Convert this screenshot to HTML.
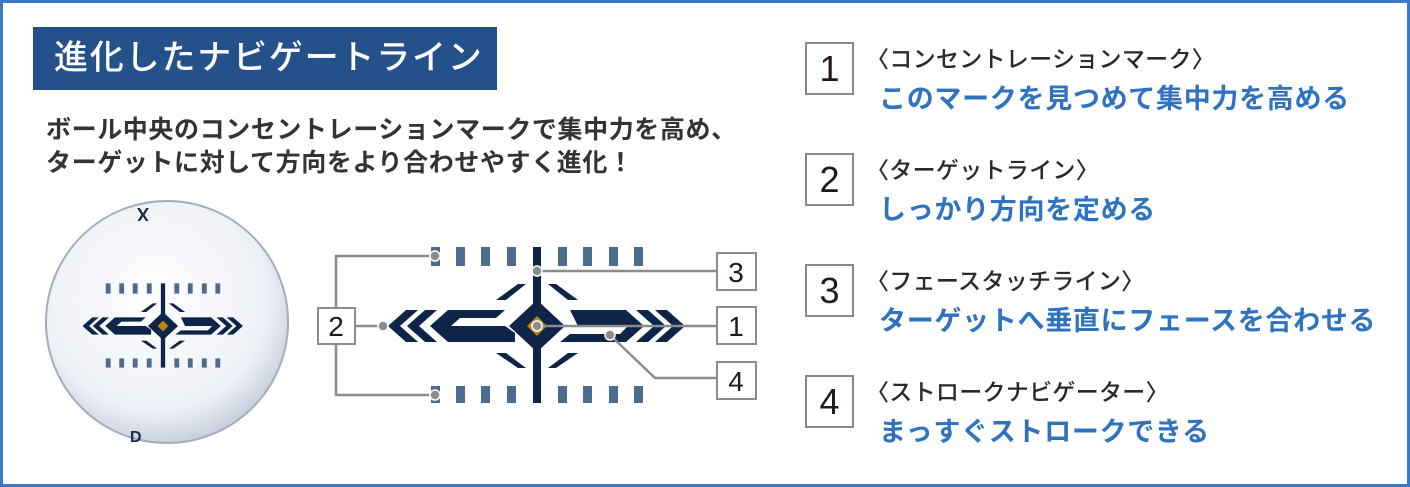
<!DOCTYPE html>
<html><head><meta charset="utf-8"><style>
*{margin:0;padding:0;box-sizing:border-box}
body{width:1410px;height:487px;background:#fff;position:relative;overflow:hidden;font-family:"Liberation Sans","Noto Sans CJK JP",sans-serif}
.frame{position:absolute;left:0;top:0;width:1410px;height:487px;border:3px solid #3a78c3}
.title{position:absolute;left:33px;top:27px;width:464px;height:63px;background:#24518a;color:#fff;font-size:34px;font-weight:500;line-height:63px;padding-left:21px;letter-spacing:1.8px;white-space:nowrap}
.sub{position:absolute;left:46px;top:114px;font-size:25px;font-weight:700;color:#333;line-height:33px;white-space:nowrap;letter-spacing:0.6px}
.nb{position:absolute;left:805px;width:49px;height:53px;border:2px solid #888;font-size:36px;color:#231815;text-align:center;line-height:50px;background:#fff}
.hd{position:absolute;left:866px;font-size:23px;font-weight:500;color:#2a2a2a;white-space:nowrap;letter-spacing:0.3px}
.bl{position:absolute;left:879px;font-size:27px;font-weight:700;color:#2f73c0;white-space:nowrap;letter-spacing:0.7px}
</style></head><body>
<div class="frame"></div>
<div class="title">進化したナビゲートライン</div>
<div class="sub">ボール中央のコンセントレーションマークで集中力を高め、<br>ターゲットに対して方向をより合わせやすく進化！</div>

<svg width="1410" height="487" style="position:absolute;left:0;top:0">
<defs>
<radialGradient id="bg" cx="0.45" cy="0.4" r="0.62">
<stop offset="0" stop-color="#ffffff"/><stop offset="0.75" stop-color="#edf0f6"/><stop offset="1" stop-color="#c5ccd9"/>
</radialGradient>
<g id="mark">
<g fill="#4d6b8f">
<rect x="431" y="247" width="9" height="19"/><rect x="456" y="247" width="9" height="19"/><rect x="481" y="247" width="9" height="19"/><rect x="507" y="247" width="9" height="19"/>
<rect x="558" y="247" width="9" height="19"/><rect x="583" y="247" width="9" height="19"/><rect x="609" y="247" width="9" height="19"/><rect x="634" y="247" width="9" height="19"/>
<rect x="431" y="386" width="9" height="17"/><rect x="456" y="386" width="9" height="17"/><rect x="481" y="386" width="9" height="17"/><rect x="507" y="386" width="9" height="17"/>
<rect x="558" y="386" width="9" height="17"/><rect x="583" y="386" width="9" height="17"/><rect x="609" y="386" width="9" height="17"/><rect x="634" y="386" width="9" height="17"/>
</g>
<g fill="#0e2448">
<rect x="533" y="247" width="8" height="156"/>
<polygon points="537,300 565,326 537,352 509,326"/>
<polygon points="406,310 418,310 400,326 418,342 406,342 388,326"/>
<polygon points="425,310 437,310 419,326 437,342 425,342 407,326"/>
<polygon points="448,310 505,310 496,318 460,318 451,326 505,326 515,333 515,342 448,342 430,326"/>
<polygon points="655,310 667,310 685,326 667,342 655,342 673,326"/>
<polygon points="636,310 648,310 666,326 648,342 636,342 654,326"/>
<polygon points="570,310 626,310 644,326 626,342 560,342 570,334 620,334 628,326 578,326"/>
<polygon points="518,284 526,284 506,300 496,300"/>
<polygon points="548,284 556,284 578,300 568,300"/>
<polygon points="496,353 506,353 526,368 518,368"/>
<polygon points="568,353 578,353 556,368 548,368"/>
</g>
<polygon points="537,316 547,326 537,336 527,326" fill="#b8860b"/>
</g>
</defs>

<circle cx="167" cy="322" r="122" fill="url(#bg)"/>
<circle cx="167" cy="322" r="121" fill="none" stroke="#a3adbf" stroke-width="2"/>
<g transform="translate(163,326) scale(0.54) translate(-537,-326)"><use href="#mark"/></g>
<text x="131" y="222" font-size="18" font-weight="700" fill="#1a2a4a" transform="rotate(180 140 215)">X</text>
<text x="130" y="442" font-size="16" font-weight="700" fill="#1a2a4a">D</text>

<use href="#mark"/>
<g stroke="#8c8c8c" stroke-width="2.5" fill="none">
<polyline points="435,256 336,256 336,307"/>
<polyline points="336,343 336,395 435,395"/>
<line x1="355" y1="326" x2="383" y2="326"/>
<line x1="537" y1="271" x2="717" y2="271"/>
<line x1="537" y1="326" x2="717" y2="326"/>
<polyline points="610,335 655,378 717,378"/>
</g>
<g fill="#8c8c8c" stroke="#fff" stroke-width="1.5">
<circle cx="435" cy="256" r="5"/><circle cx="435" cy="395" r="5"/><circle cx="383" cy="326" r="5"/>
<circle cx="537" cy="271" r="5"/><circle cx="537" cy="326" r="5"/><circle cx="610" cy="335" r="5"/>
</g>
<g font-size="28" fill="#231815" text-anchor="middle">
<rect x="318" y="308" width="37" height="36" fill="#fff" stroke="#8c8c8c" stroke-width="2"/><text x="336" y="336">2</text>
<rect x="717" y="253" width="39" height="37" fill="#fff" stroke="#8c8c8c" stroke-width="2"/><text x="736" y="282">3</text>
<rect x="717" y="307" width="39" height="37" fill="#fff" stroke="#8c8c8c" stroke-width="2"/><text x="736" y="336">1</text>
<rect x="717" y="362" width="39" height="37" fill="#fff" stroke="#8c8c8c" stroke-width="2"/><text x="736" y="391">4</text>
</g>
</svg>

<div class="nb" style="top:42px">1</div>
<div class="hd" style="top:40px">〈コンセントレーションマーク〉</div>
<div class="bl" style="top:77px">このマークを見つめて集中力を高める</div>

<div class="nb" style="top:153px">2</div>
<div class="hd" style="top:151px">〈ターゲットライン〉</div>
<div class="bl" style="top:188px">しっかり方向を定める</div>

<div class="nb" style="top:264px">3</div>
<div class="hd" style="top:262px">〈フェースタッチライン〉</div>
<div class="bl" style="top:299px">ターゲットへ垂直にフェースを合わせる</div>

<div class="nb" style="top:375px">4</div>
<div class="hd" style="top:373px">〈ストロークナビゲーター〉</div>
<div class="bl" style="top:410px">まっすぐストロークできる</div>
</body></html>
